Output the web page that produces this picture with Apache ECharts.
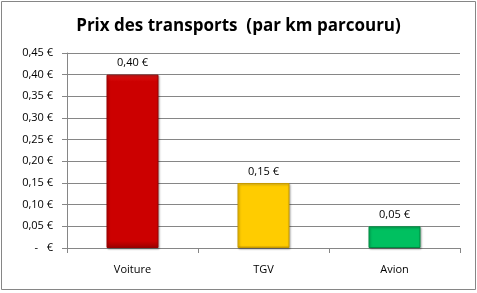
<!DOCTYPE html>
<html>
<head>
<meta charset="utf-8">
<script src="https://cdn.jsdelivr.net/npm/echarts@6/dist/echarts.min.js"></script>
<style>
    html,body{margin:0;padding:0;background:#fff;}
    #chart{width:477px;height:293px;}
</style>
</head>
<body>
<div id="chart"></div>
<script>
var categories = ['Voiture', 'TGV', 'Avion'];
var prices = [0.40, 0.15, 0.05];
var barColors = [
    ['#e01818', '#cc0000', '#9a0000'],
    ['#ffd633', '#ffcc00', '#c89a00'],
    ['#33d680', '#00c060', '#008a40']
];

function euro(v){
    if (v === 0) return '-   €';
    return v.toFixed(2).replace('.', ',') + ' €';
}

function barFill(c){
    return new echarts.graphic.LinearGradient(0, 0, 0, 1, [
        {offset: 0, color: c[0]},
        {offset: 0.04, color: c[1]},
        {offset: 0.96, color: c[1]},
        {offset: 1, color: c[2]}
    ]);
}

var chart = echarts.init(document.getElementById('chart'));
var fontColor = '#000';
chart.setOption({
    animation: false,
    graphic: [{
        type: 'rect',
        shape: {x: 1.5, y: 1.5, width: 474, height: 288},
        style: {fill: 'none', stroke: '#868686', lineWidth: 1}
    }],
    title: {
        text: 'Prix des transports  (par km parcouru)',
        left: 'center',
        top: 13,
        textStyle: {
            color: fontColor,
            fontSize: 17,
            fontWeight: 'bold',
            fontFamily: 'Open Sans'
        }
    },
    grid: {left: 67, right: 17, top: 53, bottom: 45},
    xAxis: {
        type: 'category',
        data: categories,
        axisLine: {lineStyle: {color: '#868686'}},
        axisTick: {show: true, length: 5, lineStyle: {color: '#868686'}},
        axisLabel: {color: fontColor, fontSize: 11, fontFamily: 'Open Sans', margin: 16}
    },
    yAxis: {
        type: 'value',
        min: 0,
        max: 0.45,
        interval: 0.05,
        axisLine: {show: true, lineStyle: {color: '#868686'}},
        axisTick: {show: true, length: 5, lineStyle: {color: '#868686'}},
        axisLabel: {
            color: fontColor, fontSize: 11, fontFamily: 'Open Sans', margin: 14,
            formatter: function(v){ return euro(Math.round(v * 100) / 100); }
        },
        splitLine: {lineStyle: {color: '#868686', width: 1}}
    },
    series: [{
        type: 'bar',
        barWidth: 52,
        data: prices.map(function(v, i){
            return {
                value: v,
                itemStyle: {
                    color: barFill(barColors[i]),
                    borderColor: barColors[i][2],
                    borderWidth: 1,
                    shadowColor: 'rgba(0,0,0,0.3)',
                    shadowBlur: 2,
                    shadowOffsetX: 1,
                    shadowOffsetY: 1
                }
            };
        }),
        label: {
            show: true,
            position: 'top',
            distance: 6,
            color: fontColor,
            fontSize: 11,
            fontFamily: 'Open Sans',
            formatter: function(p){ return euro(p.value); }
        }
    }]
});
</script>
</body>
</html>
